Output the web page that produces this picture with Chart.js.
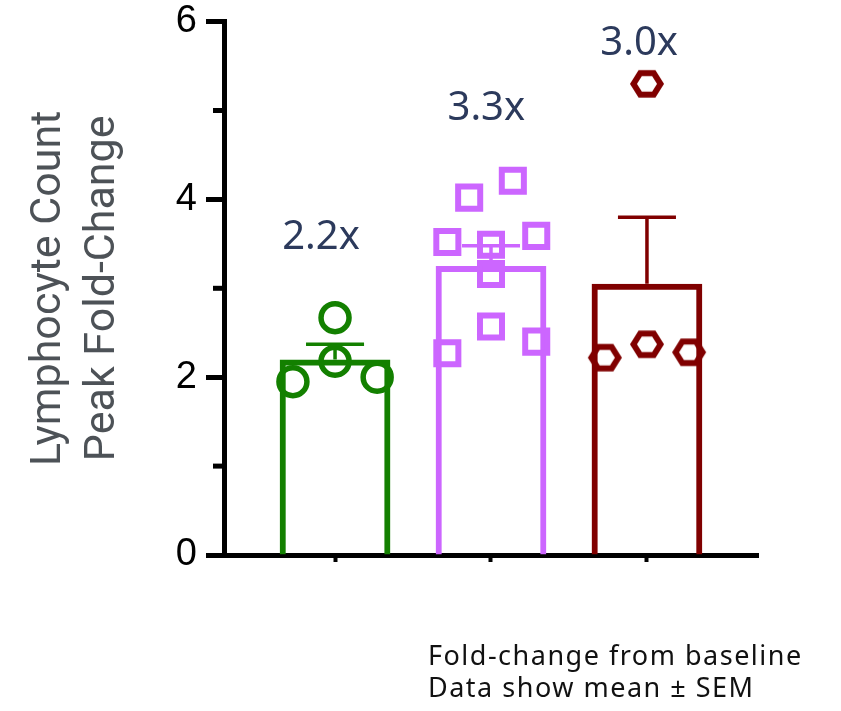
<!DOCTYPE html>
<html>
<head>
<meta charset="utf-8">
<script src="https://cdn.jsdelivr.net/npm/chart.js@4.4.0/dist/chart.umd.min.js"></script>
<style>
  html, body { margin: 0; padding: 0; background: #fff; }
</style>
</head>
<body>
<canvas id="chart" width="841" height="711"></canvas>
<script>
// groups sit at x = 0, 1, 2
const groupColors = ['#138000', '#cc66ff', '#800000'];
const means = [2.2, 3.25, 3.05];
const sems = [0.17, 0.23, 0.75];
const foldLabels = ['2.2x', '3.3x', '3.0x'];
const foldLabelY = [3.57, 5.02, 5.75];
const foldLabelDx = [-0.09, -0.03, -0.05];

// individual animals (value, horizontal jitter)
const greenY = [1.95, 2.18, 2.67, 2.00];
const greenDx = [-0.27, 0, 0, 0.27];
const violetY = [4.02, 4.21, 3.52, 3.49, 3.59, 3.16, 2.57, 2.27, 2.40];
const violetDx = [-0.14, 0.14, -0.28, 0, 0.29, 0, 0, -0.28, 0.29];
const redY = [5.30, 2.22, 2.37, 2.28];
const redDx = [0, -0.27, 0, 0.27];

const yTitle = ['Lymphocyte Count', 'Peak Fold-Change'];
const footnote = ['Fold-change from baseline', 'Data show mean \u00b1 SEM'];

const pts = (ys, dxs, g) => ys.map((v, i) => ({ x: g + dxs[i], y: v }));

function hexagon(color) {
  const c = document.createElement('canvas');
  c.width = 42; c.height = 36;
  const g = c.getContext('2d');
  const cx = 21, cy = 18, rx = 13.5, ry = 10.8;
  g.beginPath();
  g.moveTo(cx - rx, cy);
  g.lineTo(cx - rx / 2, cy - ry);
  g.lineTo(cx + rx / 2, cy - ry);
  g.lineTo(cx + rx, cy);
  g.lineTo(cx + rx / 2, cy + ry);
  g.lineTo(cx - rx / 2, cy + ry);
  g.closePath();
  g.lineWidth = 6;
  g.strokeStyle = color;
  g.stroke();
  return c;
}

const errorBars = {
  id: 'errorBars',
  afterDatasetDraw(chart, args) {
    if (args.index !== 0) return;
    const { ctx, scales: { x, y } } = chart;
    const half = x.getPixelForValue(0.186) - x.getPixelForValue(0);
    ctx.save();
    ctx.lineWidth = 3.5;
    means.forEach((m, i) => {
      const cx = x.getPixelForValue(i);
      const y0 = y.getPixelForValue(m);
      const y1 = y.getPixelForValue(m + sems[i]);
      ctx.strokeStyle = groupColors[i];
      ctx.beginPath();
      ctx.moveTo(cx, y0); ctx.lineTo(cx, y1);
      ctx.moveTo(cx - half, y1); ctx.lineTo(cx + half, y1);
      ctx.stroke();
    });
    ctx.restore();
  }
};

const extras = {
  id: 'extras',
  afterDraw(chart) {
    const { ctx, scales: { x, y } } = chart;
    ctx.save();
    // minor ticks on y
    ctx.strokeStyle = '#000';
    ctx.lineWidth = 5;
    [1, 3, 5].forEach(v => {
      const py = y.getPixelForValue(v);
      ctx.beginPath();
      ctx.moveTo(y.right - 11, py); ctx.lineTo(y.right, py);
      ctx.stroke();
    });
    // fold-change labels
    ctx.fillStyle = '#2c3a5c';
    ctx.font = '40px "Noto Sans"';
    ctx.textAlign = 'center';
    ctx.textBaseline = 'middle';
    foldLabels.forEach((t, i) => {
      ctx.fillText(t, x.getPixelForValue(i + foldLabelDx[i]), y.getPixelForValue(foldLabelY[i]));
    });
    // footnote
    ctx.fillStyle = '#111';
    ctx.font = '27px "Noto Sans"';
    ctx.letterSpacing = '1.5px';
    ctx.textAlign = 'left';
    ctx.textBaseline = 'alphabetic';
    ctx.fillText(footnote[0], 428, 665);
    ctx.fillText(footnote[1], 428, 697);
    ctx.restore();
  }
};

new Chart(document.getElementById('chart'), {
  type: 'bar',
  data: {
    datasets: [
      {
        type: 'bar', order: 10,
        data: means.map((m, i) => ({ x: i, y: m })),
        backgroundColor: 'transparent',
        borderColor: groupColors,
        borderWidth: 6,
        borderSkipped: 'bottom',
        barPercentage: 0.71,
        categoryPercentage: 1
      },
      {
        type: 'scatter', order: 0,
        data: pts(greenY, greenDx, 0),
        pointStyle: 'circle', pointRadius: 14, pointHoverRadius: 14,
        borderColor: groupColors[0], backgroundColor: 'transparent', borderWidth: 5.5
      },
      {
        type: 'scatter', order: 0,
        data: pts(violetY, violetDx, 1),
        pointStyle: 'rect', pointRadius: 15.6, pointHoverRadius: 15.6,
        borderColor: groupColors[1], backgroundColor: 'transparent', borderWidth: 6
      },
      {
        type: 'scatter', order: 0,
        data: pts(redY, redDx, 2),
        pointStyle: hexagon(groupColors[2]), pointRadius: 14,
        borderColor: groupColors[2], backgroundColor: 'transparent'
      }
    ]
  },
  options: {
    responsive: false,
    animation: false,
    events: [],
    layout: { padding: { top: 20, right: 83, left: 0, bottom: 0 } },
    plugins: { legend: { display: false }, tooltip: { enabled: false } },
    scales: {
      x: {
        type: 'linear', min: -0.712, max: 2.712, offset: false,
        afterBuildTicks: s => { s.ticks = [0, 1, 2].map(v => ({ value: v })); },
        afterFit: s => { s.height = 156; s.paddingLeft = 0; s.paddingRight = 0; },
        ticks: { display: false },
        grid: { offset: false, drawOnChartArea: false, tickLength: 7, tickWidth: 4, tickColor: '#000' },
        border: { color: '#000', width: 5 }
      },
      y: {
        min: 0, max: 6,
        afterFit: s => { s.width = 224; s.paddingTop = 0; s.paddingBottom = 0; },
        ticks: {
          stepSize: 1, padding: 9, color: '#000',
          font: { family: '"Liberation Sans", Arial', size: 38 },
          callback: v => (v % 2 === 0 ? v : '')
        },
        grid: {
          drawOnChartArea: false, tickLength: 18, tickWidth: 5,
          tickColor: c => (c.tick && c.tick.value % 2 === 0 ? '#000' : 'transparent')
        },
        border: { color: '#000', width: 5 },
        title: {
          display: true, text: yTitle, color: '#4d5257',
          font: { family: 'Roboto', size: 43, lineHeight: 1.256 },
          padding: { top: 22, bottom: 0 }
        }
      }
    }
  },
  plugins: [errorBars, extras]
});
</script>
</body>
</html>
